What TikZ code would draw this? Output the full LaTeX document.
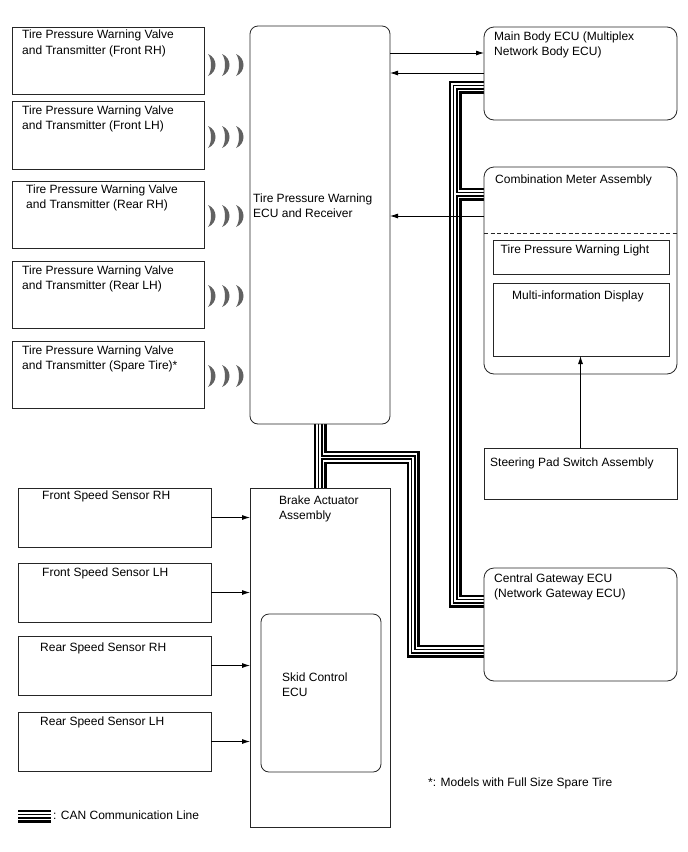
\documentclass[tikz,border=0pt]{standalone}
\usepackage{fontspec}
\setmainfont{Liberation Sans}
\usetikzlibrary{arrows.meta,backgrounds}
\begin{document}
\begin{tikzpicture}[x=1pt,y=-1pt,
  box/.style={draw=black!85, line width=0.8pt, inner sep=0pt, outer sep=0pt, anchor=north west},
  rbox/.style={box, rounded corners=8pt},
  txt/.style={anchor=north west, inner sep=0pt, align=left, font=\fontsize{12}{15.5}\selectfont},
  arr/.style={line width=0.8pt, -{Latex[length=8pt,width=5pt]}},
  wave/.style={fill=black!62}]
\useasboundingbox (0,0) rectangle (688,852);

% transmitters
\node[box, minimum width=192pt, minimum height=67pt] (tx1) at (12,27) {};
\node[box, minimum width=192pt, minimum height=68pt] (tx2) at (12,101) {};
\node[box, minimum width=192pt, minimum height=67pt] (tx3) at (12,181) {};
\node[box, minimum width=192pt, minimum height=67pt] (tx4) at (12,261) {};
\node[box, minimum width=192pt, minimum height=67pt] (tx5) at (12,341) {};
\node[txt] (ttx1) at (22,30) {Tire Pressure Warning Valve\\and Transmitter (Front RH)};
\node[txt] (ttx2) at (22,105.5) {Tire Pressure Warning Valve\\and Transmitter (Front LH)};
\node[txt] (ttx3) at (26,184.5) {Tire Pressure Warning Valve\\and Transmitter (Rear RH)};
\node[txt] (ttx4) at (22,265.5) {Tire Pressure Warning Valve\\and Transmitter (Rear LH)};
\node[txt] (ttx5) at (22,345.5) {Tire Pressure Warning Valve\\and Transmitter (Spare Tire)*};

% waves
\foreach \yy in {65,137,216,296,376}{
  \foreach \xx in {208,222,236}{
    \fill[wave] (\xx,\yy-11) .. controls (\xx+10,\yy-7) and (\xx+10,\yy+7) .. (\xx,\yy+11)
      .. controls (\xx+4,\yy+6) and (\xx+4,\yy-6) .. cycle;
  }
}

% receiver ECU
\node[rbox, minimum width=140pt, minimum height=398pt] (ecu) at (250,26) {};
\node[txt] (tecu) at (253,193.5) {Tire Pressure Warning\\ECU and Receiver};

% main body ECU
\node[rbox, rounded corners=10pt, minimum width=193pt, minimum height=93pt] (main) at (484,27) {};
\node[txt] (tmain) at (494,31.5) {Main Body ECU (Multiplex\\Network Body ECU)};

% combination meter
\node[rbox, rounded corners=10pt, minimum width=193pt, minimum height=207pt] (cm) at (484,167) {};
\node[txt] (tcm) at (495,175) {Combination Meter Assembly};
\coordinate (dl) at (0,233);
\draw[black!85, line width=0.8pt, dash pattern=on 4pt off 2.5pt] (cm.west |- dl) -- (cm.east |- dl);
\node[box, minimum width=176pt, minimum height=34pt] (light) at (493,240) {};
\node[txt] (tlight) at (500.5,245) {Tire Pressure Warning Light};
\node[box, minimum width=176pt, minimum height=73pt] (multi) at (493,283) {};
\node[txt] (tmulti) at (512,290.5) {Multi-information Display};

% steering pad switch
\node[box, minimum width=193pt, minimum height=51pt] (steer) at (484,448) {};
\node[txt] (tsteer) at (490,458) {Steering Pad Switch Assembly};

% central gateway
\node[rbox, rounded corners=10pt, minimum width=193pt, minimum height=113pt] (gw) at (484,568) {};
\node[txt] (tgw) at (494,573.5) {Central Gateway ECU\\(Network Gateway ECU)};

% brake actuator
\node[box, minimum width=140pt, minimum height=339pt] (brake) at (250,488) {};
\node[txt] (tbrake) at (279,495.5) {Brake Actuator\\Assembly};
\node[rbox, minimum width=120pt, minimum height=158pt] (skid) at (261,614) {};
\node[txt] (tskid) at (282,672.5) {Skid Control\\ECU};

% speed sensors
\node[box, minimum width=193pt, minimum height=59pt] (s1) at (18,488) {};
\node[box, minimum width=193pt, minimum height=59pt] (s2) at (18,563) {};
\node[box, minimum width=193pt, minimum height=59pt] (s3) at (18,636) {};
\node[box, minimum width=193pt, minimum height=59pt] (s4) at (18,712) {};
\node[txt] (ts1) at (42,490.5) {Front Speed Sensor RH};
\node[txt] (ts2) at (42,567.5) {Front Speed Sensor LH};
\node[txt] (ts3) at (40,642.5) {Rear Speed Sensor RH};
\node[txt] (ts4) at (40,716.5) {Rear Speed Sensor LH};

% note and legend
\node[txt] (note) at (428,777.5) {*: Models with Full Size Spare Tire};
\node[txt] (legend) at (53,811) {: CAN Communication Line};
\coordinate (lg1) at (18,816);
\coordinate (lg2) at (51,816);

% CAN network coordinates
\coordinate (bA) at (320,457.5);
\coordinate (bB) at (413,457.5);
\coordinate (bC) at (413,651);
\coordinate (cA) at (455,87);
\coordinate (cB) at (455,601);
\coordinate (cD) at (455,194);

\begin{scope}[on background layer]
\fill[white] (0,0) rectangle (688,852);
\foreach \w/\c in {13/black,8.4/white,5/black,1.8/white}{
  \draw[line width=\w pt, draw=\c]
    (ecu.south) -- (brake.north)
    (bA) -- (bB) -- (bC) -- (bC -| gw.west)
    (cA -| main.west) -- (cA) -- (cB) -- (cB -| gw.west)
    (cD) -- (cD -| cm.west)
    (lg1) -- (lg2);
}
\end{scope}

% arrows
\coordinate (a1) at (0,53);
\coordinate (a2) at (0,73);
\coordinate (a3) at (0,216);
\draw[arr] (ecu.east |- a1) -- (main.west |- a1);
\draw[arr] (main.west |- a2) -- (ecu.east |- a2);
\draw[arr] (cm.west |- a3) -- (ecu.east |- a3);
\draw[arr] (steer.north) -- (steer.north |- multi.south);
\draw[arr] (s1.east) -- (s1.east -| brake.west);
\draw[arr] (s2.east) -- (s2.east -| brake.west);
\draw[arr] (s3.east) -- (s3.east -| brake.west);
\draw[arr] (s4.east) -- (s4.east -| brake.west);
\end{tikzpicture}
\end{document}
